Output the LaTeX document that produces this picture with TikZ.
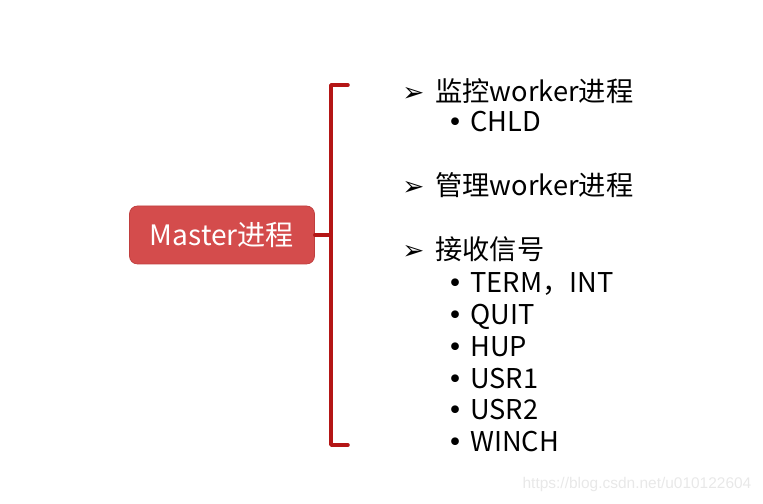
\documentclass[tikz,border=0pt]{standalone}
\usepackage{fontspec}
\setmainfont{Noto Sans CJK SC}
\newfontfamily\arrowfont{DejaVu Sans}
\newfontfamily\markfont{Liberation Sans}
\usetikzlibrary{calc,positioning}
\definecolor{masterred}{RGB}{212,76,76}
\definecolor{masteredge}{RGB}{192,62,62}
\definecolor{bracketred}{RGB}{180,22,22}
\definecolor{markgrey}{RGB}{232,232,232}
\newcommand{\headmark}{\makebox[0.66cm][l]{\arrowfont\fontsize{15}{15}\selectfont ➢}}
\newcommand{\itemmark}{\makebox[0.46cm][l]{\arrowfont\fontsize{15}{15}\selectfont •}}

\begin{document}
\begin{tikzpicture}[line cap=round,line join=round,
  txt/.style={anchor=base west,inner sep=0pt,font=\fontsize{15.5}{19}\selectfont},
  masterbox/.style={rounded corners=0.16cm,fill=masterred,draw=masteredge,thin,
    minimum width=3.7cm,minimum height=1.16cm,text=white,
    font=\fontsize{16}{19}\selectfont}]
 \useasboundingbox (0,0) rectangle (15.26,10.08);
 % Master node.
 \node[masterbox] (master) at (4.44,5.38) {Master进程};
 % Bracket.
 \coordinate (brtop) at (6.96,8.38);
 \coordinate (brmid) at (6.62,5.38);
 \coordinate (brbot) at (6.96,1.18);
 \draw[bracketred,line width=2pt] (master.east) -- (brmid);
 \draw[bracketred,line width=2pt] (brtop) -| (brmid) |- (brbot);
 % Duties of master.
 \node[txt] (watch) at (8.04,8.04) {\headmark 监控worker进程};
 \node[txt] (chld) at (8.94,7.44) {\itemmark CHLD};
 \node[txt] (manage) at (8.04,6.16) {\headmark 管理worker进程};
 \node[txt] (signal) at (8.04,4.88) {\headmark 接收信号};
 \node[txt] (term) at (8.94,4.22) {\itemmark TERM，INT};
 \node[txt] (quit) at (8.94,3.58) {\itemmark QUIT};
 \node[txt] (hup) at (8.94,2.94) {\itemmark HUP};
 \node[txt] (usra) at (8.94,2.30) {\itemmark USR1};
 \node[txt] (usrb) at (8.94,1.68) {\itemmark USR2};
 \node[txt] (winch) at (8.94,1.04) {\itemmark WINCH};
 % Watermark.
 \node[text=markgrey,font=\markfont\fontsize{8.8}{11}\selectfont] (mark)
  at (12.74,0.38) {https://blog.csdn.net/u010122604};
\end{tikzpicture}
\end{document}
